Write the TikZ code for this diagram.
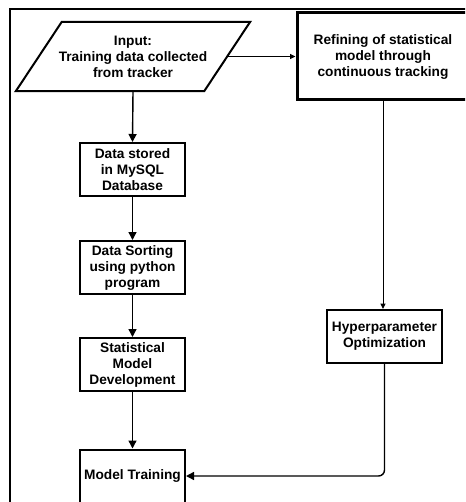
\documentclass[tikz,border=0pt]{standalone}
\usepackage{fontspec}
\setmainfont{Liberation Sans}
\usetikzlibrary{arrows.meta}
\begin{document}
\begin{tikzpicture}[x=1pt,y=-1pt,
  every node/.style={font=\bfseries\fontsize{13.7}{16}\selectfont, align=center, inner sep=0pt},
  stepbox/.style={draw, line width=2pt, minimum width=105, minimum height=53},
  flow/.style={line width=1.4pt, -{Triangle[length=8pt,width=8pt]}},
  thinflow/.style={line width=1pt, -{Triangle[length=5.5pt,width=5pt]}}]
\useasboundingbox (0,0) rectangle (465,502);
\clip (0,0) rectangle (465,502);
% outer frame
\draw[line width=1.6pt] (10,9) rectangle (490,530);
% input: text node with a parallelogram drawn around it
\node[minimum width=188, minimum height=69] (input) at (133,56.5)
      {Input:\\Training data collected\\from tracker};
\draw[line width=2pt] ([xshift=23pt]input.north west) -- ([xshift=23pt]input.north east)
      -- ([xshift=-23pt]input.south east) -- ([xshift=-23pt]input.south west) -- cycle;
\node[draw, line width=3pt, minimum width=172, minimum height=87] (refine) at (383,56.5)
      {Refining of statistical\\model through\\continuous tracking};
\node[stepbox] (stored) at (132.5,169.5) {Data stored\\in MySQL\\Database};
\node[stepbox] (sorting) at (132.5,267.5) {Data Sorting\\using python\\program};
\node[stepbox] (stat) at (132.5,364.5) {Statistical\\Model\\Development};
\node[stepbox] (train) at (132.5,476) {Model Training};
\node[draw, line width=2pt, minimum width=115, minimum height=53] (hyper) at (384.5,336.5)
      {Hyperparameter\\Optimization};
% connectors
\draw[flow] (input.south) -- (stored.north);
\draw[flow] (stored) -- (sorting);
\draw[flow] (sorting) -- (stat);
\draw[flow] (stat) -- (train);
\draw[thinflow] (input.east) -- (input.east -| refine.west);
\draw[thinflow] (refine.south) -- (refine.south |- hyper.north);
\draw[flow, rounded corners=6pt] (hyper.south) |- (train.east);
\end{tikzpicture}
\end{document}
